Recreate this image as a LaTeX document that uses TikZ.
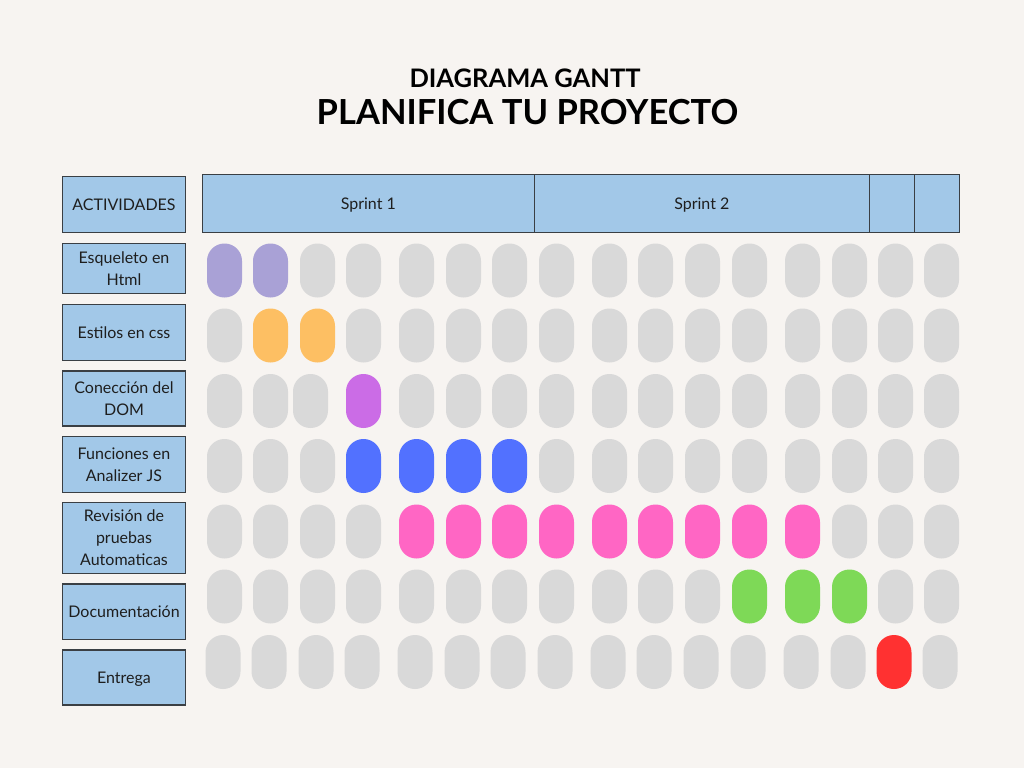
\documentclass[tikz,border=0pt]{standalone}
\usepackage{fontspec}
\setmainfont{Lato}
\begin{document}
\begin{tikzpicture}[x=1pt,y=-1pt,
  lbl/.style={draw=boxline, line width=1.3pt, fill=boxfill, inner sep=0pt, align=center, font=\fontsize{16}{22}\selectfont, text=txt, text depth=0pt},
  hdr/.style={draw=boxline, line width=1.3pt, fill=boxfill, inner sep=0pt, text depth=0pt},
  pill/.style={draw=none, minimum width=35pt, minimum height=54pt, rounded corners=17.4pt, inner sep=0pt}]
\definecolor{bg}{HTML}{F7F4F1}
\definecolor{boxfill}{HTML}{A2C8E8}
\definecolor{boxline}{HTML}{3A3F44}
\definecolor{txt}{HTML}{1E1E1E}
\definecolor{cg}{HTML}{D9D9D9}
\definecolor{cpu}{HTML}{A9A1D6}
\definecolor{cor}{HTML}{FDBF63}
\definecolor{cmg}{HTML}{CB6CE6}
\definecolor{cbl}{HTML}{5271FF}
\definecolor{cpk}{HTML}{FF66C4}
\definecolor{cgr}{HTML}{7ED957}
\definecolor{crd}{HTML}{FF3131}
\fill[bg] (0,0) rectangle (1024,768);
\useasboundingbox (0,0) rectangle (1024,768);
% titles
\node[font=\bfseries\fontsize{25.5}{28}\selectfont, text=black] (t1) at (525,78.5) {DIAGRAMA GANTT};
\node[font=\bfseries\fontsize{34.5}{40}\selectfont, text=black] (t2) at (527.5,112.5) {PLANIFICA TU PROYECTO};
% header
\node[hdr, minimum width=123pt, minimum height=56pt, font=\fontsize{16}{18}\selectfont, text=txt] (act) at (124,204.5) {ACTIVIDADES};
\node[hdr, minimum width=332pt, minimum height=58pt, font=\fontsize{16}{18}\selectfont, text=txt] (s1) at (368.3,203.8) {Sprint 1};
\node[hdr, minimum width=335pt, minimum height=58pt, font=\fontsize{16}{18}\selectfont, text=txt] (s2) at (701.8,203.8) {Sprint 2};
\node[hdr, minimum width=45pt, minimum height=58pt] (s3) at (891.8,203.8) {};
\node[hdr, minimum width=45pt, minimum height=58pt] (s4) at (936.7,203.8) {};
% labels
\node[lbl, minimum width=123pt, minimum height=50pt] (l1) at (124,268.5) {Esqueleto en\\Html};
\node[lbl, minimum width=123pt, minimum height=56pt] (l2) at (124,332.5) {Estilos en css};
\node[lbl, minimum width=123pt, minimum height=55pt] (l3) at (124,398.4) {Conección del\\DOM};
\node[lbl, minimum width=123pt, minimum height=55.5pt] (l4) at (124,464.5) {Funciones en\\Analizer JS};
\node[lbl, minimum width=123pt, minimum height=70.6pt] (l5) at (124,538) {Revisión de\\pruebas\\Automaticas};
\node[lbl, minimum width=123pt, minimum height=55.3pt] (l6) at (124,611.7) {Documentación};
\node[lbl, minimum width=123pt, minimum height=55pt] (l7) at (124,677.5) {Entrega};
% pills
\def\colx{207,253,300,346,399,446,492,539,592,638,685,732,785,832,878,924}
\foreach \r/\y/\sh/\cols in {
  1/243.5/0/{pu,pu,g,g,g,g,g,g,g,g,g,g,g,g,g,g},
  2/308.5/0/{g,or,or,g,g,g,g,g,g,g,g,g,g,g,g,g},
  3/374/0/{g,g,g,mg,g,g,g,g,g,g,g,g,g,g,g,g},
  4/439/0/{g,g,g,bl,bl,bl,bl,g,g,g,g,g,g,g,g,g},
  5/504.5/0/{g,g,g,g,pk,pk,pk,pk,pk,pk,pk,pk,pk,g,g,g},
  6/569.5/0/{g,g,g,g,g,g,g,g,g,g,g,gr,gr,gr,g,g},
  7/635/-1.5/{g,g,g,g,g,g,g,g,g,g,g,g,g,g,rd,g}}
{
  \foreach \c [count=\i] in \cols {
    \pgfmathsetmacro\xx{{\colx}[\i-1] + \sh + ((\r==3 && \i==3) ? -7 : 0) + 17.5}
    \node[pill, fill=c\c] (p\r-\i) at (\xx,\y+27) {};
  }
}
\end{tikzpicture}
\end{document}
